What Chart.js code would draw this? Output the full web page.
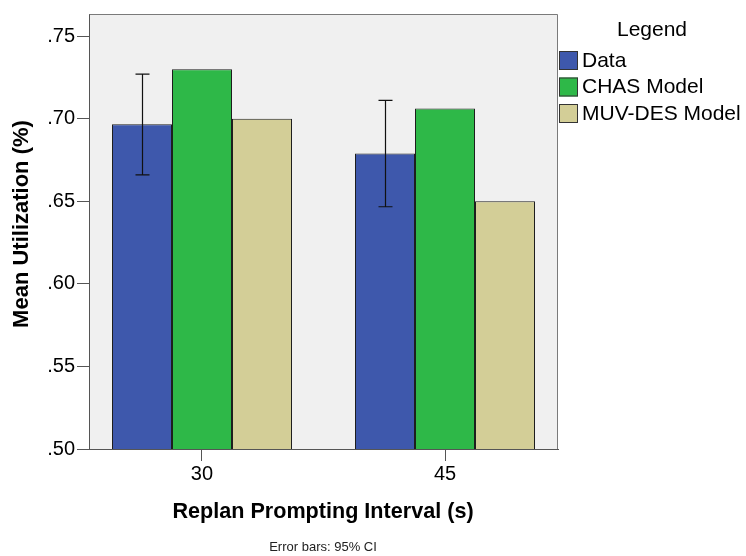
<!DOCTYPE html>
<html>
<head>
<meta charset="utf-8">
<script src="https://cdn.jsdelivr.net/npm/chart.js@4"></script>
<style>
  body { margin: 0; background: #fff; }
  #wrap { width: 746px; height: 556px; position: relative; }
</style>
</head>
<body>
<div id="wrap"><canvas id="chart"></canvas></div>
<script>
// values
const intervals = [30, 45];
const dataMean = [0.6966, 0.679];
const dataCiLow = [0.666, 0.6467];
const dataCiHigh = [0.727, 0.7111];
const chasModel = [0.730, 0.7062];
const muvDesModel = [0.700, 0.650];
const yTicks = [0.50, 0.55, 0.60, 0.65, 0.70, 0.75];
const seriesNames = ['Data', 'CHAS Model', 'MUV-DES Model'];
const seriesColors = ['#3E58AC', '#2EB848', '#D3CE97'];

const FONT = '"Liberation Sans", Arial, sans-serif';

function points(vals) {
  return intervals.map((x, i) => ({ x: x, y: vals[i] }));
}

// error bars for the Data series
const errorBars = {
  id: 'errorBars',
  afterDatasetsDraw(chart) {
    const ctx = chart.ctx;
    const y = chart.scales.y;
    const meta = chart.getDatasetMeta(0);
    ctx.save();
    ctx.strokeStyle = '#111';
    ctx.lineWidth = 1.2;
    meta.data.forEach((bar, i) => {
      const x = Math.round(bar.x) + 0.5;
      const top = y.getPixelForValue(dataCiHigh[i]);
      const bot = y.getPixelForValue(dataCiLow[i]);
      ctx.beginPath();
      ctx.moveTo(x, top); ctx.lineTo(x, bot);
      ctx.moveTo(x - 7, top); ctx.lineTo(x + 7, top);
      ctx.moveTo(x - 7, bot); ctx.lineTo(x + 7, bot);
      ctx.stroke();
    });
    ctx.restore();
  }
};

// plot background, frame, titles, legend, footnote
const frame = {
  id: 'frame',
  beforeDraw(chart) {
    const { ctx, chartArea: a } = chart;
    ctx.save();
    ctx.fillStyle = '#F0F0F0';
    ctx.fillRect(a.left, a.top, a.right - a.left, a.bottom - a.top);
    ctx.restore();
  },
  afterDraw(chart) {
    const { ctx, chartArea: a } = chart;
    ctx.save();
    ctx.strokeStyle = '#7a7a7a';
    ctx.lineWidth = 1;
    ctx.beginPath();
    ctx.moveTo(a.left + 0.5, a.top + 0.5);
    ctx.lineTo(a.right - 0.5, a.top + 0.5);
    ctx.lineTo(a.right - 0.5, a.bottom);
    ctx.stroke();

    ctx.fillStyle = '#000';
    ctx.textAlign = 'center';
    ctx.textBaseline = 'middle';
    ctx.font = 'bold 21.6px ' + FONT;
    ctx.fillText('Replan Prompting Interval (s)', 323, 512);
    ctx.save();
    ctx.translate(22, 224);
    ctx.rotate(-Math.PI / 2);
    ctx.font = 'bold 22px ' + FONT;
    ctx.fillText('Mean Utilization (%)', 0, 0);
    ctx.restore();

    ctx.font = '13px ' + FONT;
    ctx.fillStyle = '#222';
    ctx.fillText('Error bars: 95% CI', 323, 547);

    // legend
    ctx.fillStyle = '#000';
    ctx.font = '21px ' + FONT;
    ctx.fillText('Legend', 652, 30);
    ctx.textAlign = 'left';
    seriesNames.forEach((name, i) => {
      const top = 51 + i * 26.5;
      ctx.fillStyle = seriesColors[i];
      ctx.fillRect(559, top, 19, 19);
      ctx.strokeStyle = '#333';
      ctx.strokeRect(559.5, top + 0.5, 18, 18);
      ctx.fillStyle = '#000';
      ctx.fillText(name, 582, top + 10);
    });
    ctx.restore();
  }
};

const datasets = [dataMean, chasModel, muvDesModel].map((vals, i) => ({
  label: seriesNames[i],
  data: points(vals),
  backgroundColor: seriesColors[i],
  borderColor: '#1e1e1e',
  borderWidth: 1,
  borderSkipped: 'start',
  categoryPercentage: 0.7407,
  barPercentage: 1
}));

new Chart(document.getElementById('chart'), {
  type: 'bar',
  data: { datasets },
  options: {
    responsive: true,
    maintainAspectRatio: false,
    animation: false,
    layout: { padding: { top: 9, right: 188, left: 0, bottom: 0 } },
    plugins: { legend: { display: false }, tooltip: { enabled: false } },
    scales: {
      x: {
        type: 'linear',
        min: intervals[0] - 6.975,
        max: intervals[1] + 6.975,
        offset: false,
        afterFit(s) { s.height = 107; },
        afterBuildTicks(s) { s.ticks = intervals.map(v => ({ value: v })); },
        grid: { offset: false, drawOnChartArea: false, drawTicks: true, tickLength: 12, color: '#555' },
        border: { color: '#555', width: 1 },
        ticks: {
          color: '#000',
          font: { family: FONT, size: 20 },
          padding: 1,
          callback: v => String(v)
        }
      },
      y: {
        min: 0.5,
        max: 0.7634,
        afterFit(s) { s.width = 89; },
        afterBuildTicks(s) { s.ticks = yTicks.map(v => ({ value: v })); },
        grid: { drawOnChartArea: false, drawTicks: true, tickLength: 12, color: '#555' },
        border: { color: '#555', width: 1 },
        ticks: {
          color: '#000',
          font: { family: FONT, size: 20 },
          padding: 2,
          callback: v => v.toFixed(2).replace(/^0/, '')
        }
      }
    }
  },
  plugins: [frame, errorBars]
});
</script>
</body>
</html>
